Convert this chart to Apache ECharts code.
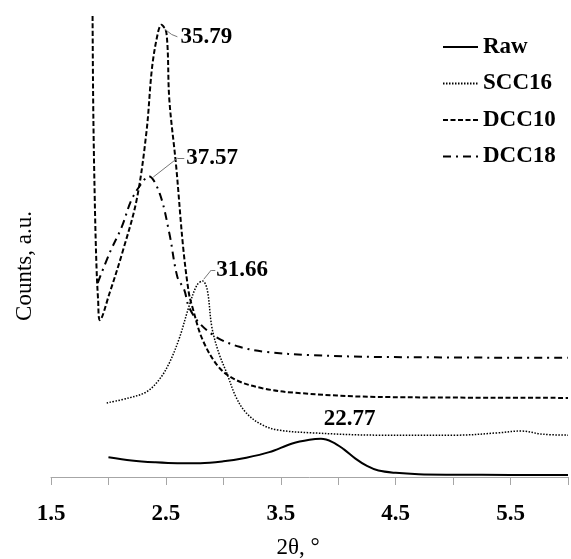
<!DOCTYPE html>
<html>
<head>
<meta charset="utf-8">
<script src="https://cdn.jsdelivr.net/npm/echarts@6/dist/echarts.min.js"></script>
<style>
html,body{margin:0;padding:0;background:#fff;}
#chart{width:571px;height:559px;}
</style>
</head>
<body>
<div id="chart"></div>
<script>
// ---- data (2θ in degrees, counts in arbitrary units) ----
const seriesNames = ['Raw', 'SCC16', 'DCC10', 'DCC18'];

const rawX = [2.0, 2.2, 2.4, 2.6, 2.8, 3.0, 3.2, 3.4, 3.6, 3.75, 3.85, 3.95, 4.05, 4.15, 4.25, 4.35, 4.5, 4.7, 5.0, 5.5, 6.0];
const rawY = [4.3, 3.6, 3.2, 3.0, 3.0, 3.4, 4.2, 5.4, 7.3, 8.1, 8.3, 7.6, 6.0, 4.0, 2.4, 1.4, 0.9, 0.6, 0.5, 0.45, 0.45];

const scc16X = [1.985, 2.18, 2.33, 2.44, 2.53, 2.62, 2.70, 2.77, 2.82, 2.86, 2.90, 2.96, 3.03, 3.11, 3.20, 3.34, 3.48, 3.77, 4.35, 5.04, 5.39, 5.59, 5.78, 6.0];
const scc16Y = [16.1, 17.2, 18.5, 21.1, 24.8, 30.4, 37.0, 41.7, 42.6, 40.7, 32.6, 27.0, 22.6, 17.4, 13.9, 11.3, 10.2, 9.6, 9.1, 9.1, 9.6, 10.0, 9.3, 9.1];

const dcc10X = [1.86, 1.867, 1.881, 1.896, 1.91, 1.925, 2.01, 2.12, 2.245, 2.33, 2.38, 2.43, 2.46, 2.505, 2.53, 2.59, 2.65, 2.70, 2.73, 2.82, 2.96, 3.11, 3.34, 3.63, 4.35, 6.0];
const dcc10Y = [110, 82, 60.2, 45.7, 38.5, 34.1, 40.0, 48.7, 60.2, 74.8, 89.1, 96.5, 98.3, 96.5, 82, 67.4, 50, 40, 37, 29.8, 23.9, 21.1, 19.3, 18.3, 17.4, 17.2];

const dcc18X = [1.907, 2.01, 2.115, 2.20, 2.29, 2.35, 2.445, 2.53, 2.60, 2.66, 2.70, 2.79, 2.94, 3.14, 3.37, 3.77, 4.35, 6.0];
const dcc18Y = [42.2, 48.7, 54.3, 60.2, 63.9, 65.4, 61.7, 53.0, 43.5, 40.7, 37.0, 33.5, 30.4, 28.3, 27.2, 26.5, 26.1, 25.9];

// peak annotations (label text, anchor point in data coords, leader polyline in data coords)
const peakLabels = ['22.77', '31.66', '35.79', '37.57'];
const labelAnchors = [[3.83, 8.3], [2.93, 45.0], [2.60, 95.7], [2.66, 69.3]];
const leaders = [
  [],
  [[2.83, 43.0], [2.895, 45.0], [2.93, 45.0]],
  [[2.488, 97.4], [2.55, 96.2], [2.60, 95.7]],
  [[2.39, 65.2], [2.60, 69.3], [2.66, 69.3]]
];

const xTicks = [1.5, 2.5, 3.5, 4.5, 5.5];

// ---- build ----
const FONT = 'Liberation Serif';
const zip = (xs, ys) => xs.map((x, i) => [x, ys[i]]);
const datasets = [zip(rawX, rawY), zip(scc16X, scc16Y), zip(dcc10X, dcc10Y), zip(dcc18X, dcc18Y)];
const styles = [
  { width: 2, type: 'solid' },
  { width: 1.5, type: [1.5, 1.5] },
  { width: 2, type: [5, 2.5] },
  { width: 2, type: [8, 5, 2, 5] }
];
const labelPos = [
  { position: 'top', distance: 8, offset: [31, 0] },
  { position: 'right', distance: 1 },
  { position: 'right', distance: 3 },
  { position: 'right', distance: 2 }
];

const series = seriesNames.map((name, i) => {
  const segs = [];
  const L = leaders[i];
  for (let k = 0; k + 1 < L.length; k++) segs.push([{ coord: L[k] }, { coord: L[k + 1] }]);
  return {
    name: name,
    type: 'line',
    data: datasets[i],
    symbol: 'none',
    showSymbol: false,
    smooth: 0.35,
    clip: true,
    lineStyle: Object.assign({ color: '#000', cap: 'butt' }, styles[i]),
    itemStyle: { color: '#000' },
    z: 2 + i,
    markPoint: {
      silent: true,
      symbol: 'circle',
      symbolSize: 0,
      data: [{
        coord: labelAnchors[i],
        label: Object.assign({
          show: true,
          formatter: peakLabels[i],
          color: '#000',
          fontFamily: FONT,
          fontWeight: 'bold',
          fontSize: 23
        }, labelPos[i])
      }]
    },
    markLine: {
      silent: true,
      symbol: ['none', 'none'],
      label: { show: false },
      lineStyle: { color: '#777', width: 1, type: 'solid' },
      data: segs
    }
  };
});

const chart = echarts.init(document.getElementById('chart'), null, { renderer: 'canvas' });
chart.setOption({
  animation: false,
  backgroundColor: '#fff',
  grid: { left: 51, right: 0, top: 17, bottom: 82, containLabel: false },
  legend: {
    orient: 'vertical',
    left: 437,
    top: 30,
    itemWidth: 35,
    itemHeight: 14,
    itemGap: 12.5,
    data: seriesNames,
    itemStyle: { color: 'rgba(0,0,0,0)', borderWidth: 0, opacity: 0 },
    textStyle: { fontFamily: FONT, fontWeight: 'bold', fontSize: 23, color: '#000', lineHeight: 24 }
  },
  xAxis: {
    type: 'value',
    min: 1.5,
    max: 6.0,
    interval: 0.5,
    axisLine: { show: true, lineStyle: { color: '#a6a6a6', width: 1 } },
    axisTick: { show: true, length: 8, lineStyle: { color: '#a6a6a6' } },
    splitLine: { show: false },
    axisLabel: {
      margin: 26,
      fontFamily: FONT,
      fontWeight: 'bold',
      fontSize: 23,
      color: '#000',
      formatter: v => (xTicks.some(t => Math.abs(t - v) < 1e-6) ? v.toFixed(1) : '')
    }
  },
  yAxis: {
    type: 'value',
    min: 0,
    max: 100,
    show: false
  },
  graphic: [
    {
      type: 'text',
      x: 298, y: 548,
      style: { text: '2θ, °', fontFamily: FONT, fontSize: 23, fill: '#000', textAlign: 'center', textVerticalAlign: 'middle' }
    },
    {
      type: 'text',
      x: 25, y: 266,
      rotation: Math.PI / 2,
      style: { text: 'Counts, a.u.', fontFamily: FONT, fontSize: 23, fill: '#000', textAlign: 'center', textVerticalAlign: 'middle' }
    }
  ],
  series: series
});
</script>
</body>
</html>
